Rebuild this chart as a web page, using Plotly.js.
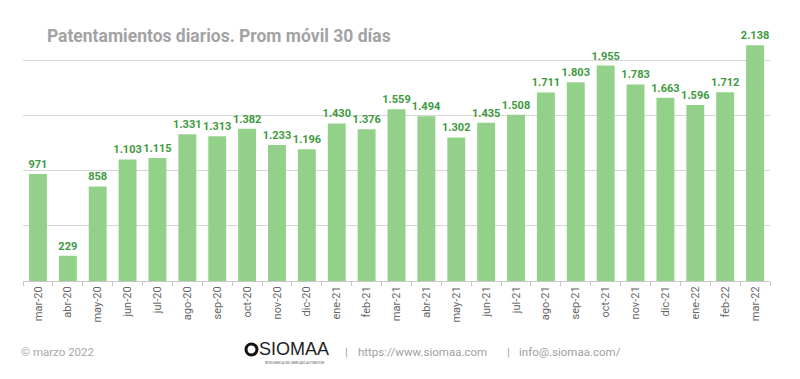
<!DOCTYPE html>
<html><head><meta charset="utf-8">
<script src="https://cdn.plot.ly/plotly-3.0.1.min.js"></script>
<style>html,body{margin:0;padding:0;background:#fff}#c{width:800px;height:379px}</style>
</head><body><div id="c"></div>
<script>
const months = ["mar-20","abr-20","may-20","jun-20","jul-20","ago-20","sep-20","oct-20","nov-20","dic-20","ene-21","feb-21","mar-21","abr-21","may-21","jun-21","jul-21","ago-21","sep-21","oct-21","nov-21","dic-21","ene-22","feb-22","mar-22"];
const patentamientos = [971,229,858,1103,1115,1331,1313,1382,1233,1196,1430,1376,1559,1494,1302,1435,1508,1711,1803,1955,1783,1663,1596,1712,2138];

const px = v => (v - 23) / 747;
const py = v => (281 - v) / 248;
const trace = {
  type: 'bar', x: months, y: patentamientos,
  marker: {color: '#93d08a'},
  texttemplate: '%{y:,}', textposition: 'outside', cliponaxis: false, constraintext: 'none',
  textfont: {family: 'Roboto', size: 11, color: '#3d9a3d', weight: 'bold'},
  hoverinfo: 'none'
};
const foot = (text, x, size, color, fam, y) => ({text, xref: 'paper', yref: 'paper', x: px(x), y: py(y), xanchor: 'left', yanchor: 'middle',
  showarrow: false, font: {family: fam || 'Roboto', size, color}, xshift: -1});
const layout = {
  width: 800, height: 379,
  margin: {l: 23, r: 30, t: 33, b: 98},
  separators: ',.',
  bargap: 0.4,
  paper_bgcolor: '#fff', plot_bgcolor: '#fff',
  showlegend: false,
  font: {family: 'Roboto', color: '#777'},
  title: {text: '<b>Patentamientos diarios. Prom móvil 30 días</b>', x: 0.032, xanchor: 'left', y: 0.905, yanchor: 'middle', xref: 'paper',
    font: {family: 'Roboto', size: 17.5, color: '#a3a3a3'}},
  xaxis: {type: 'category', tickangle: -90, tickfont: {family: 'Roboto', size: 11, color: '#666'},
    showline: true, linecolor: '#c8c8c8', linewidth: 1, ticks: 'outside', ticklen: 4, tickcolor: '#c8c8c8',
    tickson: 'boundaries', showgrid: false, automargin: false},
  yaxis: {range: [0, 2250], dtick: 500, showgrid: true, gridcolor: '#d6d6d6', gridwidth: 1,
    showticklabels: false, zeroline: false, fixedrange: true},
  annotations: [
    foot('© marzo 2022', 20, 11.5, '#a8a8a8', null, 352),
    foot('SIOMAA', 258, 18, '#222', 'Liberation Sans', 349),
    foot('INTELIGENCIA DEL MERCADO AUTOMOTOR', 264, 3, '#555', null, 363),
    foot('|', 344, 11.5, '#a0a0a0', null, 352),
    foot('https://www.siomaa.com', 357, 11.5, '#a0a0a0', null, 352),
    foot('|', 506, 11.5, '#a0a0a0', null, 352),
    foot('info@.siomaa.com/', 518, 11.5, '#a0a0a0', null, 352)
  ],
  shapes: [
    {type: 'circle', xref: 'paper', yref: 'paper', x0: px(246), x1: px(257), y0: py(355), y1: py(344),
     line: {color: '#111', width: 3}, fillcolor: 'rgba(0,0,0,0)'}
  ]
};
Plotly.newPlot('c', [trace], layout, {displayModeBar: false, staticPlot: true});
</script></body></html>
